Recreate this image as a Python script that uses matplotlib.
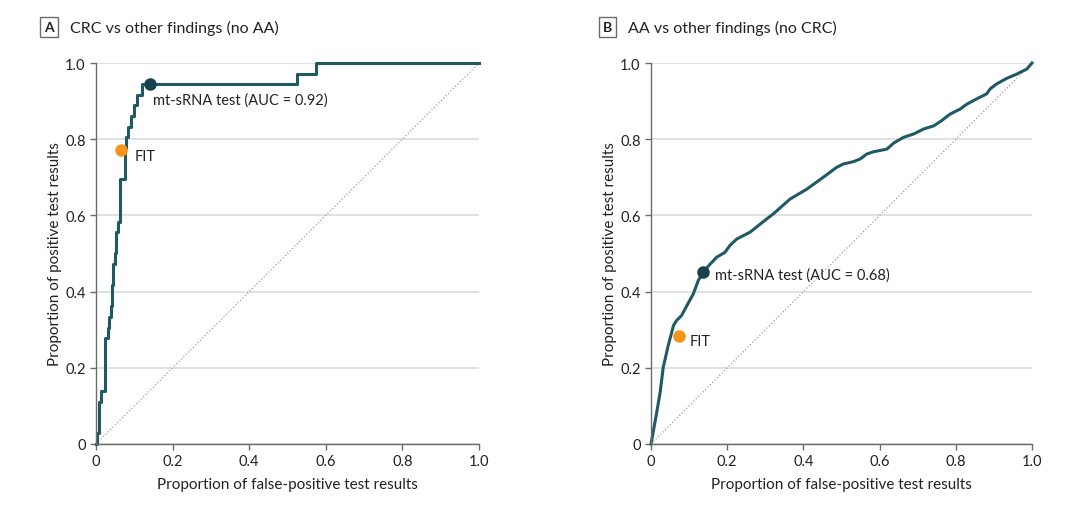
import matplotlib.pyplot as plt
import numpy as np

plt.rcParams['font.family'] = ['Lato', 'DejaVu Sans']

# panel A: CRC vs other findings, step ROC (36 CRC cases)
fpr_a = [0, 0.0035, 0.0087, 0.014, 0.024, 0.030, 0.034, 0.038, 0.041, 0.045, 0.050, 0.052,
         0.058, 0.063, 0.075, 0.079, 0.084, 0.091, 0.099, 0.106, 0.121, 0.524, 0.574, 1.0]
hits_a = [0, 1, 4, 5, 10, 11, 12, 13, 15, 17, 18, 20, 21, 25, 28, 29, 30, 31, 32, 33, 34, 35, 36, 36]
n_pos_a = 36
tpr_a = np.array(hits_a) / n_pos_a
mt_a = (0.141, 0.944)
fit_a = (0.065, 0.772)

# panel B: AA vs other findings
fpr_b = [0, 0.015, 0.024, 0.032, 0.045, 0.059, 0.067, 0.080, 0.094, 0.111, 0.124, 0.137,
         0.155, 0.172, 0.194, 0.207, 0.225, 0.260, 0.304, 0.321, 0.365, 0.409, 0.452, 0.487,
         0.505, 0.531, 0.549, 0.566, 0.584, 0.619, 0.637, 0.663, 0.690, 0.716, 0.742, 0.763,
         0.785, 0.811, 0.829, 0.855, 0.881, 0.890, 0.907, 0.934, 0.960, 0.986, 1.0]
tpr_b = [0, 0.083, 0.136, 0.201, 0.258, 0.311, 0.324, 0.337, 0.363, 0.394, 0.429, 0.451,
         0.472, 0.490, 0.503, 0.521, 0.538, 0.556, 0.591, 0.604, 0.643, 0.669, 0.700, 0.726,
         0.735, 0.741, 0.748, 0.761, 0.767, 0.774, 0.790, 0.805, 0.814, 0.827, 0.835, 0.849,
         0.866, 0.879, 0.892, 0.906, 0.919, 0.932, 0.945, 0.960, 0.971, 0.984, 1.0]
mt_b = (0.137, 0.451)
fit_b = (0.073, 0.283)

ticks = [0, 0.2, 0.4, 0.6, 0.8, 1.0]
tick_labels = ['0', '0.2', '0.4', '0.6', '0.8', '1.0']

line_col = '#1f5a64'
dot_col = '#17414b'
fit_col = '#f7941d'
txt_col = '#222222'

fig = plt.figure(figsize=(10.8, 5.1), dpi=100)
ax_a = fig.add_axes([0.0889, 0.1275, 0.3546, 0.747])
ax_b = fig.add_axes([0.6028, 0.1275, 0.3528, 0.747])


def style(ax):
    ax.set_xlim(0, 1)
    ax.set_ylim(0, 1)
    ax.set_xticks(ticks)
    ax.set_xticklabels(tick_labels)
    ax.set_yticks(ticks)
    ax.set_yticklabels(tick_labels)
    for s in ['top', 'right']:
        ax.spines[s].set_visible(False)
    for s in ['left', 'bottom']:
        ax.spines[s].set_color('#6b6b6b')
        ax.spines[s].set_linewidth(1.0)
    ax.tick_params(colors='#6b6b6b', labelcolor=txt_col, labelsize=10.5, length=4, width=1)
    ax.grid(axis='y', color='#dcdcdc', linewidth=1.2)
    ax.set_axisbelow(True)
    ax.plot([0, 1], [0, 1], color='#8a8a8a', linestyle=(0, (1, 2)), linewidth=0.8)
    ax.set_xlabel('Proportion of false-positive test results', fontsize=11, color=txt_col, labelpad=6)
    ax.set_ylabel('Proportion of positive test results', fontsize=11, color=txt_col, labelpad=2)


style(ax_a)
ax_a.plot(fpr_a, tpr_a, drawstyle='steps-post', color=line_col, linewidth=2.2, clip_on=False)
ax_a.plot(*mt_a, 'o', color=dot_col, markersize=8, zorder=5)
ax_a.plot(*fit_a, 'o', color=fit_col, markersize=8, zorder=5)
ax_a.text(0.149, 0.905, 'mt-sRNA test (AUC = 0.92)', fontsize=10.5, color=txt_col, va='center')
ax_a.text(0.102, 0.756, 'FIT', fontsize=10.5, color=txt_col, va='center')

style(ax_b)
ax_b.plot(fpr_b, tpr_b, color=line_col, linewidth=2.2, clip_on=False)
ax_b.plot(*mt_b, 'o', color=dot_col, markersize=8, zorder=5)
ax_b.plot(*fit_b, 'o', color=fit_col, markersize=8, zorder=5)
ax_b.text(0.168, 0.446, 'mt-sRNA test (AUC = 0.68)', fontsize=10.5, color=txt_col, va='center')
ax_b.text(0.102, 0.27, 'FIT', fontsize=10.5, color=txt_col, va='center')

# panel headers
box = dict(boxstyle='square,pad=0.3', facecolor='white', edgecolor='#6b6b6b', linewidth=1)
fig.text(0.0455, 0.945, 'A', fontsize=10, fontweight='bold', color=txt_col, va='center', ha='center', bbox=box)
fig.text(0.065, 0.945, 'CRC vs other findings (no AA)', fontsize=11.5, color=txt_col, va='center')
fig.text(0.5625, 0.945, 'B', fontsize=10, fontweight='bold', color=txt_col, va='center', ha='center', bbox=box)
fig.text(0.5815, 0.945, 'AA vs other findings (no CRC)', fontsize=11.5, color=txt_col, va='center')

fig.savefig('out.png', dpi=100)
